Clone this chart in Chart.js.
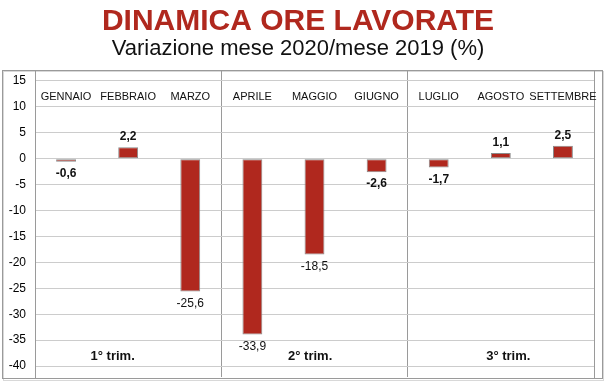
<!DOCTYPE html>
<html lang="it">
<head>
  <meta charset="UTF-8" />
  <title>Dinamica ore lavorate</title>
  <script src="https://cdn.jsdelivr.net/npm/chart.js"></script>
  <style>
    html, body { margin: 0; padding: 0; background: #fff; }
    #wrap { width: 608px; height: 382px; position: relative; }
  </style>
</head>
<body>
  <div id="wrap"><canvas id="chart" width="608" height="382"></canvas></div>

  <script>
    // dati
    const mesi = ['GENNAIO', 'FEBBRAIO', 'MARZO', 'APRILE', 'MAGGIO', 'GIUGNO', 'LUGLIO', 'AGOSTO', 'SETTEMBRE'];
    const variazioni = [-0.6, 2.2, -25.6, -33.9, -18.5, -2.6, -1.7, 1.1, 2.5];
    const trimestri = ['1° trim.', '2° trim.', '3° trim.'];
    const yTicks = [15, 10, 5, 0, -5, -10, -15, -20, -25, -30, -35, -40];

    const FONT = "'Liberation Sans', Arial, sans-serif";
    const ROSSO = '#b0281e';

    const fmt = v => v.toFixed(1).replace('.', ',');

    // cornice esterna + bordo destro area grafico
    const cornice = {
      id: 'cornice',
      beforeDraw(chart) {
        const { ctx, chartArea } = chart;
        ctx.save();
        ctx.strokeStyle = '#d8d8d8';
        ctx.lineWidth = 1;
        ctx.strokeRect(3.5, chartArea.top + 1.5, 600, chartArea.bottom - chartArea.top + 2);
        ctx.strokeStyle = '#9a9a9a';
        ctx.strokeRect(2.5, chartArea.top + 0.5, 600, chartArea.bottom - chartArea.top + 1);
        ctx.beginPath();
        ctx.moveTo(Math.round(chartArea.right) + 0.5, chartArea.top);
        ctx.lineTo(Math.round(chartArea.right) + 0.5, chartArea.bottom + 1);
        ctx.stroke();
        ctx.restore();
      }
    };

    // nomi dei mesi, valori e trimestri
    const etichette = {
      id: 'etichette',
      afterDatasetsDraw(chart) {
        const { ctx } = chart;
        const x = chart.scales.x;
        const y = chart.scales.y;
        ctx.save();
        ctx.textAlign = 'center';

        ctx.fillStyle = '#111';
        ctx.font = '11px ' + FONT;
        ctx.textBaseline = 'middle';
        mesi.forEach((m, i) => ctx.fillText(m, x.getPixelForValue(i), 97));

        const meta = chart.getDatasetMeta(0);
        variazioni.forEach((v, i) => {
          const bar = meta.data[i];
          ctx.font = (Math.abs(v) < 10 ? 'bold ' : '') + '12px ' + FONT;
          if (v >= 0) {
            ctx.textBaseline = 'alphabetic';
            ctx.fillText(fmt(v), bar.x, bar.y - 7);
          } else {
            ctx.textBaseline = 'top';
            ctx.fillText(fmt(v), bar.x, bar.y + 6);
          }
        });

        const posTrim = [0.75, 3.93, 7.12];
        ctx.font = 'bold 13px ' + FONT;
        ctx.textBaseline = 'middle';
        trimestri.forEach((t, i) => ctx.fillText(t, x.getPixelForValue(posTrim[i]), y.getPixelForValue(-38.2)));
        ctx.restore();
      }
    };

    const ctx = document.getElementById('chart').getContext('2d');
    new Chart(ctx, {
      type: 'bar',
      data: {
        labels: mesi,
        datasets: [{
          data: variazioni,
          backgroundColor: ROSSO,
          borderColor: '#8a8a8a',
          borderWidth: 1,
          borderSkipped: false,
          categoryPercentage: 1,
          barPercentage: 0.32
        }]
      },
      options: {
        responsive: false,
        animation: false,
        layout: { padding: { top: 0, right: 14, bottom: 5, left: 2 } },
        plugins: {
          legend: { display: false },
          tooltip: { enabled: false },
          title: {
            display: true,
            text: 'DINAMICA ORE LAVORATE',
            color: ROSSO,
            font: { family: FONT, size: 30, weight: 'bold', lineHeight: 1 },
            padding: { top: 7, bottom: 0 }
          },
          subtitle: {
            display: true,
            text: 'Variazione mese 2020/mese 2019 (%)',
            color: '#111',
            font: { family: FONT, size: 22, lineHeight: 1 },
            padding: { top: 1, bottom: 10 }
          }
        },
        scales: {
          x: {
            ticks: { display: false },
            border: { display: false },
            grid: {
              offset: true,
              drawTicks: false,
              color: c => (c.index === 3 || c.index === 6) ? '#9a9a9a' : 'rgba(0,0,0,0)'
            }
          },
          y: {
            min: -42.1,
            max: 17.1,
            afterBuildTicks: s => { s.ticks = yTicks.map(v => ({ value: v })); },
            afterFit: s => { s.width = 33; s.paddingTop = 0; s.paddingBottom = 0; },
            ticks: {
              color: '#000',
              padding: 9,
              font: { family: FONT, size: 12 }
            },
            border: { color: '#9a9a9a' },
            grid: { color: '#cccccc', drawTicks: false }
          }
        }
      },
      plugins: [cornice, etichette]
    });
  </script>
</body>
</html>
